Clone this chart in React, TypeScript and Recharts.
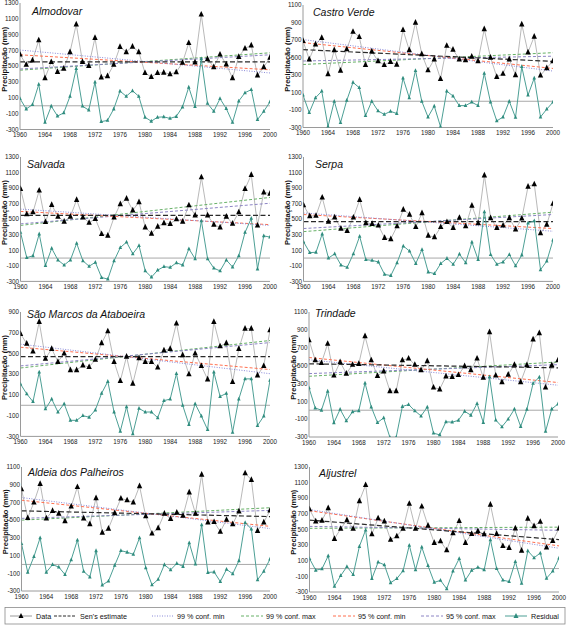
import React from 'react';
import { ComposedChart, Line, XAxis, YAxis, ReferenceLine } from 'recharts';

const years = [1960, 1961, 1962, 1963, 1964, 1965, 1966, 1967, 1968, 1969, 1970, 1971, 1972, 1973, 1974, 1975, 1976, 1977, 1978, 1979, 1980, 1981, 1982, 1983, 1984, 1985, 1986, 1987, 1988, 1989, 1990, 1991, 1992, 1993, 1994, 1995, 1996, 1997, 1998, 1999, 2000];
const xTicks = [1960, 1964, 1968, 1972, 1976, 1980, 1984, 1988, 1992, 1996, 2000];
const yTicks1300 = [-300, -100, 100, 300, 500, 700, 900, 1100, 1300];
const yTicks1100 = [-300, -100, 100, 300, 500, 700, 900, 1100];
const yTicks900 = [-300, -100, 100, 300, 500, 700, 900];

// Lines: [Sen's estimate, 99% min, 99% max, 95% min, 95% max] as [value 1960, value 2000]
const almodovarData = [650, 520, 575, 830, 350, 555, 430, 470, 680, 1030, 555, 505, 860, 360, 375, 520, 745, 680, 750, 680, 415, 365, 415, 420, 400, 425, 545, 795, 550, 1155, 590, 490, 650, 525, 350, 620, 725, 765, 385, 490, 610];
const almodovarResidual = [90, -40, 15, 270, -210, -5, -130, -90, 120, 470, -5, -55, 300, -200, -185, -40, 185, 120, 190, 120, -145, -195, -145, -140, -160, -135, -15, 235, -10, 595, 30, -70, 90, -35, -210, 60, 165, 205, -175, -70, 50];
const almodovarLines = [[555, 555], [705, 415], [450, 670], [645, 455], [465, 645]];

const castroData = [690, 480, 650, 725, 310, 585, 350, 595, 795, 735, 415, 570, 460, 415, 450, 420, 815, 585, 900, 540, 355, 480, 255, 635, 590, 480, 470, 510, 460, 825, 500, 280, 315, 480, 300, 880, 560, 740, 295, 380, 460];
const castroResidual = [70, -130, 40, 115, -290, 0, -245, 10, 215, 155, -165, 0, -110, -150, -115, -140, 265, 40, 350, 0, -180, -55, -290, 115, 60, -50, -50, -10, -50, 320, -10, -225, -180, 0, -185, 395, 70, 265, -180, -90, -10];
const castroLines = [[590, 455], [705, 345], [420, 555], [670, 375], [460, 515]];

const salvadaData = [890, 565, 590, 870, 465, 685, 535, 470, 535, 750, 525, 455, 505, 310, 290, 525, 695, 765, 615, 720, 395, 315, 405, 450, 440, 500, 470, 680, 550, 1040, 550, 430, 395, 535, 445, 590, 890, 1070, 420, 845, 830];
const salvadaResidual = [330, 5, 30, 310, -95, 125, -25, -90, -25, 190, -35, -105, -55, -250, -270, -35, 135, 205, 55, 160, -165, -245, -155, -110, -120, -60, -90, 120, -10, 480, -10, -130, -165, -25, -115, 30, 330, 510, -140, 285, 270];
const salvadaLines = [[550, 550], [630, 420], [420, 780], [600, 430], [440, 705]];

const serpaData = [680, 540, 545, 780, 470, 525, 380, 350, 523, 750, 450, 440, 420, 260, 245, 410, 625, 560, 400, 580, 290, 270, 400, 465, 390, 520, 410, 675, 450, 1065, 515, 390, 420, 515, 370, 510, 920, 950, 320, 430, 700];
const serpaResidual = [210, 70, 75, 310, 0, 55, -90, -120, 55, 280, -20, -30, -50, -210, -225, -60, 155, 90, -70, 110, -180, -200, -70, -5, -80, 50, -60, 205, -20, 595, 45, -80, -50, 45, -100, 40, 450, 480, -150, -40, 230];
const serpaLines = [[470, 470], [580, 345], [340, 590], [560, 380], [380, 560]];

const marcosData = [690, 595, 520, 805, 450, 545, 420, 500, 340, 340, 385, 370, 440, 600, 715, 420, 235, 470, 210, 455, 420, 420, 365, 530, 545, 790, 485, 300, 500, 380, 250, 805, 570, 600, 225, 545, 740, 740, 290, 380, 725];
const marcosResidual = [205, 110, 35, 320, -35, 60, -65, 15, -145, -145, -100, -115, -45, 115, 230, -65, -250, -15, -275, -30, -65, -65, -120, 45, 60, 305, 0, -185, 15, -105, -235, 320, 85, 115, -260, 60, 255, 255, -195, -105, 240];
const marcosLines = [[470, 470], [590, 305], [360, 625], [560, 345], [380, 605]];

const trindadeData = [785, 560, 530, 745, 390, 540, 410, 510, 520, 830, 560, 385, 435, 215, 215, 560, 580, 510, 450, 550, 255, 235, 380, 375, 395, 495, 450, 580, 365, 875, 390, 315, 400, 510, 315, 505, 795, 865, 255, 505, 560];
const trindadeResidual = [250, 25, 0, 213, -140, 10, -118, -17, -6, 305, 36, -138, -86, -305, -304, 42, 63, -6, -65, 36, -257, -276, -130, -134, -113, -12, -56, 75, -138, 373, -111, -185, -99, 12, -182, 9, 300, 372, -237, 14, 70];
const trindadeLines = [[520, 475], [565, 280], [380, 540], [590, 310], [410, 510]];

const aldeiaData = [850, 525, 700, 910, 520, 605, 575, 490, 655, 875, 520, 455, 750, 360, 405, 580, 745, 725, 700, 885, 545, 350, 410, 575, 515, 585, 550, 815, 575, 1015, 475, 480, 370, 505, 455, 600, 1030, 955, 380, 475, 610];
const aldeiaResidual = [235, -88, 88, 300, -88, -2, -30, -114, 53, 275, -79, -142, 155, -234, -187, -11, 156, 138, 114, 301, -38, -231, -169, -3, -61, 11, -23, 244, 5, 447, -91, -85, -193, -56, -105, 42, 473, 400, -173, -77, 60];
const aldeiaLines = [[605, 540], [755, 405], [500, 640], [725, 430], [520, 610]];

const aljustrelData = [760, 605, 615, 775, 380, 510, 620, 510, 865, 1070, 440, 645, 605, 370, 415, 510, 830, 510, 795, 550, 330, 350, 235, 455, 610, 330, 445, 480, 440, 820, 445, 290, 265, 515, 230, 640, 545, 600, 270, 355, 515];
const aljustrelResidual = [128, -21, -4, 162, -227, -91, 25, -78, 283, 494, -129, 82, 48, -181, -129, -28, 298, -16, 275, 37, -177, -151, -259, -33, 128, -146, -24, 17, -17, 369, 0, -148, -167, 89, -189, 227, 138, 199, -124, -33, 133];
const aljustrelLines = [[620, 370], [755, 260], [515, 530], [740, 290], [540, 490]];

const legendLabels = ['Data', "Sen's estimate", '99 % conf. min', '99 % conf. max', '95 % conf. min', '95 % conf. max', 'Residual'];

const C = {
  data: '#b9b9b9',
  sen: '#2a2a2a',
  min99: '#8a8ad8',
  max99: '#66b066',
  min95: '#ff6e4e',
  max95: '#8c84c4',
  resid: '#4c9f95',
  residDot: '#2f8c7e',
  axis: '#9a9a9a',
};

const tickFont = "'Liberation Sans Narrow', 'Arial Narrow', 'Liberation Sans', Arial, sans-serif";
const mainFont = "'Liberation Sans', Arial, sans-serif";

type Plot = { l: number; t: number; r: number; b: number };
type PanelDef = {
  name: string;
  data: number[];
  resid: number[];
  lines: number[][];
  domain: [number, number];
  ticks: number[];
  col: 0 | 1;
  plot: Plot;
  title: { x: number; y: number };
};

const panels: PanelDef[] = [
  { name: 'Almodovar', data: almodovarData, resid: almodovarResidual, lines: almodovarLines, domain: [-300, 1300], ticks: yTicks1300, col: 0, plot: { l: 20, t: 3, r: 270, b: 129.5 }, title: { x: 32, y: 15 } },
  { name: 'Castro Verde', data: castroData, resid: castroResidual, lines: castroLines, domain: [-300, 1100], ticks: yTicks1100, col: 1, plot: { l: 303, t: 5, r: 553, b: 127.5 }, title: { x: 313, y: 16 } },
  { name: 'Salvada', data: salvadaData, resid: salvadaResidual, lines: salvadaLines, domain: [-300, 1300], ticks: yTicks1300, col: 0, plot: { l: 20.5, t: 157.3, r: 270, b: 281.7 }, title: { x: 27, y: 168 } },
  { name: 'Serpa', data: serpaData, resid: serpaResidual, lines: serpaLines, domain: [-300, 1300], ticks: yTicks1300, col: 1, plot: { l: 303.5, t: 157.3, r: 553, b: 281.7 }, title: { x: 315, y: 168 } },
  { name: 'São Marcos da Ataboeira', data: marcosData, resid: marcosResidual, lines: marcosLines, domain: [-300, 900], ticks: yTicks900, col: 0, plot: { l: 20.5, t: 312.3, r: 270, b: 436.7 }, title: { x: 27, y: 318 } },
  { name: 'Trindade', data: trindadeData, resid: trindadeResidual, lines: trindadeLines, domain: [-300, 1100], ticks: yTicks1100, col: 1, plot: { l: 309, t: 311.7, r: 558, b: 436.7 }, title: { x: 315, y: 317 } },
  { name: 'Aldeia dos Palheiros', data: aldeiaData, resid: aldeiaResidual, lines: aldeiaLines, domain: [-300, 1100], ticks: yTicks1100, col: 0, plot: { l: 21.5, t: 466.7, r: 270, b: 590.7 }, title: { x: 28, y: 476 } },
  { name: 'Aljustrel', data: aljustrelData, resid: aljustrelResidual, lines: aljustrelLines, domain: [-300, 1300], ticks: yTicks1300, col: 1, plot: { l: 309.5, t: 466.7, r: 559, b: 591.7 }, title: { x: 319, y: 477 } },
];

function buildRows(p: PanelDef) {
  const last = years.length - 1;
  return years.map((year, i) => {
    const row: any = { year, data: p.data[i], resid: p.resid[i] };
    if (i === 0 || i === last) {
      const k = i === 0 ? 0 : 1;
      row.sen = p.lines[0][k];
      row.min99 = p.lines[1][k];
      row.max99 = p.lines[2][k];
      row.min95 = p.lines[3][k];
      row.max95 = p.lines[4][k];
    }
    return row;
  });
}

const makeTri = (size: number, fill: string, prefix: string) => (props: any) => {
  const { cx, cy, index } = props;
  const key = `${prefix}-${index}`;
  if (cx == null || cy == null || isNaN(cx) || isNaN(cy)) return <g key={key} />;
  const w = size;
  const h = size * 1.05;
  return (
    <path
      key={key}
      d={`M${cx},${cy - h * 0.62} L${cx + w / 2},${cy + h * 0.38} L${cx - w / 2},${cy + h * 0.38} Z`}
      fill={fill}
    />
  );
};

const dataDot = makeTri(5.4, '#000000', 'd');
const residDot = makeTri(3.6, C.residDot, 'r');

function Panel({ p }: { p: PanelDef }) {
  const colLeft = p.col === 0 ? 0 : 283;
  const colW = p.col === 0 ? 283 : 284;
  const top = p.plot.t - 6;
  const h = p.plot.b - top + 14;
  const rows = buildRows(p);
  const tickStyle = { fontSize: 6.3, fill: '#1a1a1a', fontFamily: tickFont };
  return (
    <div style={{ position: 'absolute', left: colLeft, top, width: colW, height: h }}>
      <ComposedChart
        width={colW}
        height={h}
        data={rows}
        margin={{ top: 6, right: colLeft + colW - p.plot.r, bottom: 0, left: 0 }}
      >
        <XAxis
          type="number"
          dataKey="year"
          domain={[1960, 2000]}
          ticks={xTicks}
          interval={0}
          allowDataOverflow
          tickLine={false}
          tickSize={0}
          tickMargin={3.5}
          height={14}
          axisLine={{ stroke: C.axis, strokeWidth: 1 }}
          tick={tickStyle}
        />
        <YAxis
          type="number"
          domain={p.domain}
          ticks={p.ticks}
          interval={0}
          allowDataOverflow
          width={p.plot.l - colLeft}
          tickLine={false}
          tickSize={0}
          tickMargin={1.5}
          axisLine={{ stroke: C.axis, strokeWidth: 1 }}
          tick={tickStyle}
        />
        <ReferenceLine y={0} stroke="#a8a8a8" strokeWidth={1} />
        <Line dataKey="data" stroke={C.data} strokeWidth={1} dot={dataDot} activeDot={false} isAnimationActive={false} />
        <Line dataKey="max99" stroke={C.max99} strokeWidth={1} strokeDasharray="3 2" dot={false} activeDot={false} connectNulls isAnimationActive={false} />
        <Line dataKey="max95" stroke={C.max95} strokeWidth={1} strokeDasharray="3 2" dot={false} activeDot={false} connectNulls isAnimationActive={false} />
        <Line dataKey="min95" stroke={C.min95} strokeWidth={1} strokeDasharray="3 2" dot={false} activeDot={false} connectNulls isAnimationActive={false} />
        <Line dataKey="min99" stroke={C.min99} strokeWidth={1} strokeDasharray="1 1.5" dot={false} activeDot={false} connectNulls isAnimationActive={false} />
        <Line dataKey="sen" stroke={C.sen} strokeWidth={1.2} strokeDasharray="5 2.5" dot={false} activeDot={false} connectNulls isAnimationActive={false} />
        <Line dataKey="resid" stroke={C.resid} strokeWidth={1} dot={residDot} activeDot={false} isAnimationActive={false} />
      </ComposedChart>
    </div>
  );
}

function LegendIcon({ x, kind }: { x: number; kind: number }) {
  const y = 616;
  const w = 22;
  if (kind === 0 || kind === 6) {
    const col = kind === 0 ? '#9a9a9a' : C.resid;
    const fill = kind === 0 ? '#000' : C.residDot;
    const cx = x + w / 2;
    return (
      <g>
        <line x1={x} y1={y} x2={x + w} y2={y} stroke={col} strokeWidth={1} />
        <path d={`M${cx},${y - 3} L${cx + 2.5},${y + 2} L${cx - 2.5},${y + 2} Z`} fill={fill} />
      </g>
    );
  }
  const styles: Record<number, { c: string; d: string }> = {
    1: { c: C.sen, d: '3 1.5' },
    2: { c: C.min99, d: '1 1.5' },
    3: { c: C.max99, d: '3 2' },
    4: { c: C.min95, d: '3 2' },
    5: { c: C.max95, d: '3 2' },
  };
  const s = styles[kind];
  return <line x1={x} y1={y} x2={x + w} y2={y} stroke={s.c} strokeWidth={1} strokeDasharray={s.d} />;
}

const legendIconX = [10, 54, 152, 241, 333, 421, 505];
const legendTextX = [36, 80, 177, 266, 358, 446, 531];

export default function App() {
  return (
    <div style={{ position: 'absolute', left: 0, top: 0, width: 567, height: 625, background: '#fff', overflow: 'hidden' }}>
      {panels.map((p) => (
        <Panel key={p.name} p={p} />
      ))}
      <svg
        width={567}
        height={625}
        style={{ position: 'absolute', left: 0, top: 0, pointerEvents: 'none' }}
      >
        {panels.map((p) => (
          <g key={p.name}>
            <text x={p.title.x} y={p.title.y} fontSize={10.5} fontStyle="italic" fontFamily={mainFont} fill="#111">
              {p.name}
            </text>
            <text
              x={0}
              y={0}
              transform={`translate(${p.plot.l - 16},${(p.plot.t + p.plot.b) / 2 - 7}) rotate(-90)`}
              textAnchor="middle"
              dominantBaseline="central"
              fontSize={7.5}
              fontWeight="bold"
              fontFamily={mainFont}
              fill="#111"
            >
              Precipitação (mm)
            </text>
          </g>
        ))}
        <rect x={5} y={607.5} width={560} height={16.5} fill="#fff" stroke="#8a8a8a" strokeWidth={0.8} />
        {legendLabels.map((label, i) => (
          <g key={label}>
            <LegendIcon x={legendIconX[i]} kind={i} />
            <text x={legendTextX[i]} y={618.5} fontSize={7.2} fontFamily={mainFont} fill="#111">
              {label}
            </text>
          </g>
        ))}
      </svg>
    </div>
  );
}
